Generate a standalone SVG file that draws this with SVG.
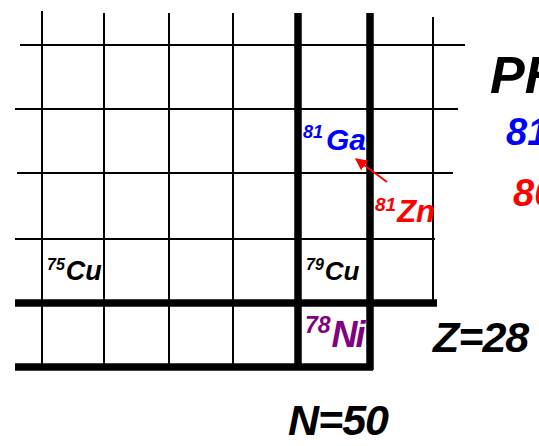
<svg xmlns="http://www.w3.org/2000/svg" width="539" height="446" viewBox="0 0 539 446">
<defs>
<style>
.thin{stroke:#000;stroke-width:2;fill:none}
.thick{stroke:#000;stroke-width:7.5;fill:none}
text{font-family:"Liberation Sans",Arial,sans-serif;font-weight:bold;font-style:italic}
</style>
<marker id="ah" viewBox="0 0 10 10" refX="9" refY="5" markerWidth="6" markerHeight="6" orient="auto" markerUnits="strokeWidth">
<path d="M0,0 L10,5 L0,10 z" fill="#ff0000"/>
</marker>
</defs>
<rect width="539" height="446" fill="#fff"/>
<g id="grid">
<line class="thin" x1="42" y1="11" x2="42" y2="367"/>
<line class="thin" x1="104" y1="13" x2="104" y2="367"/>
<line class="thin" x1="169" y1="13" x2="169" y2="367"/>
<line class="thin" x1="233" y1="13" x2="233" y2="367"/>
<line class="thin" x1="433" y1="17" x2="433" y2="303"/>
<line class="thin" x1="20" y1="45" x2="465" y2="45"/>
<line class="thin" x1="15" y1="109" x2="458" y2="109"/>
<line class="thin" x1="17" y1="173" x2="453" y2="173"/>
<line class="thin" x1="15" y1="239" x2="435" y2="239"/>
<line class="thick" x1="298" y1="13" x2="298" y2="370"/>
<line class="thick" x1="370" y1="13" x2="370" y2="370"/>
<line class="thick" x1="15" y1="303" x2="437" y2="303"/>
<line class="thick" x1="15" y1="367" x2="373" y2="367"/>
</g>
<g id="connectors">
<line x1="387" y1="182" x2="356" y2="159" stroke="#ff0000" stroke-width="2" marker-end="url(#ah)"/>
</g>
<g id="ga81"><text x="303" y="150" fill="#0000ff" font-size="30"><tspan font-size="18" dy="-12">81</tspan><tspan dx="3" dy="12">Ga</tspan></text></g>
<g id="zn81"><text x="375" y="222" fill="#ff0000" font-size="31"><tspan font-size="19" dy="-11">81</tspan><tspan dx="1" dy="11">Zn</tspan></text></g>
<g id="cu75"><text x="47" y="280" fill="#000" font-size="27"><tspan font-size="16" dy="-10">75</tspan><tspan dx="1" dy="10">Cu</tspan></text></g>
<g id="cu79"><text x="306" y="280" fill="#000" font-size="26"><tspan font-size="16" dy="-10">79</tspan><tspan dx="1" dy="10">Cu</tspan></text></g>
<g id="ni78"><text x="305" y="347" fill="#800080" font-size="36"><tspan font-size="23" dy="-14">78</tspan><tspan dx="1" dy="14" letter-spacing="-2">Ni</tspan></text></g>
<g id="z28"><text x="433" y="352" fill="#000" font-size="43" letter-spacing="-1">Z=28</text></g>
<g id="n50"><text x="288" y="435" fill="#000" font-size="43" letter-spacing="-1">N=50</text></g>
<g id="right">
<text x="490" y="93" fill="#000" font-size="52">PH</text>
<text x="506" y="145" fill="#0000ff" font-size="38">81</text>
<text x="513" y="206" fill="#ff0000" font-size="38">80</text>
</g>
</svg>
